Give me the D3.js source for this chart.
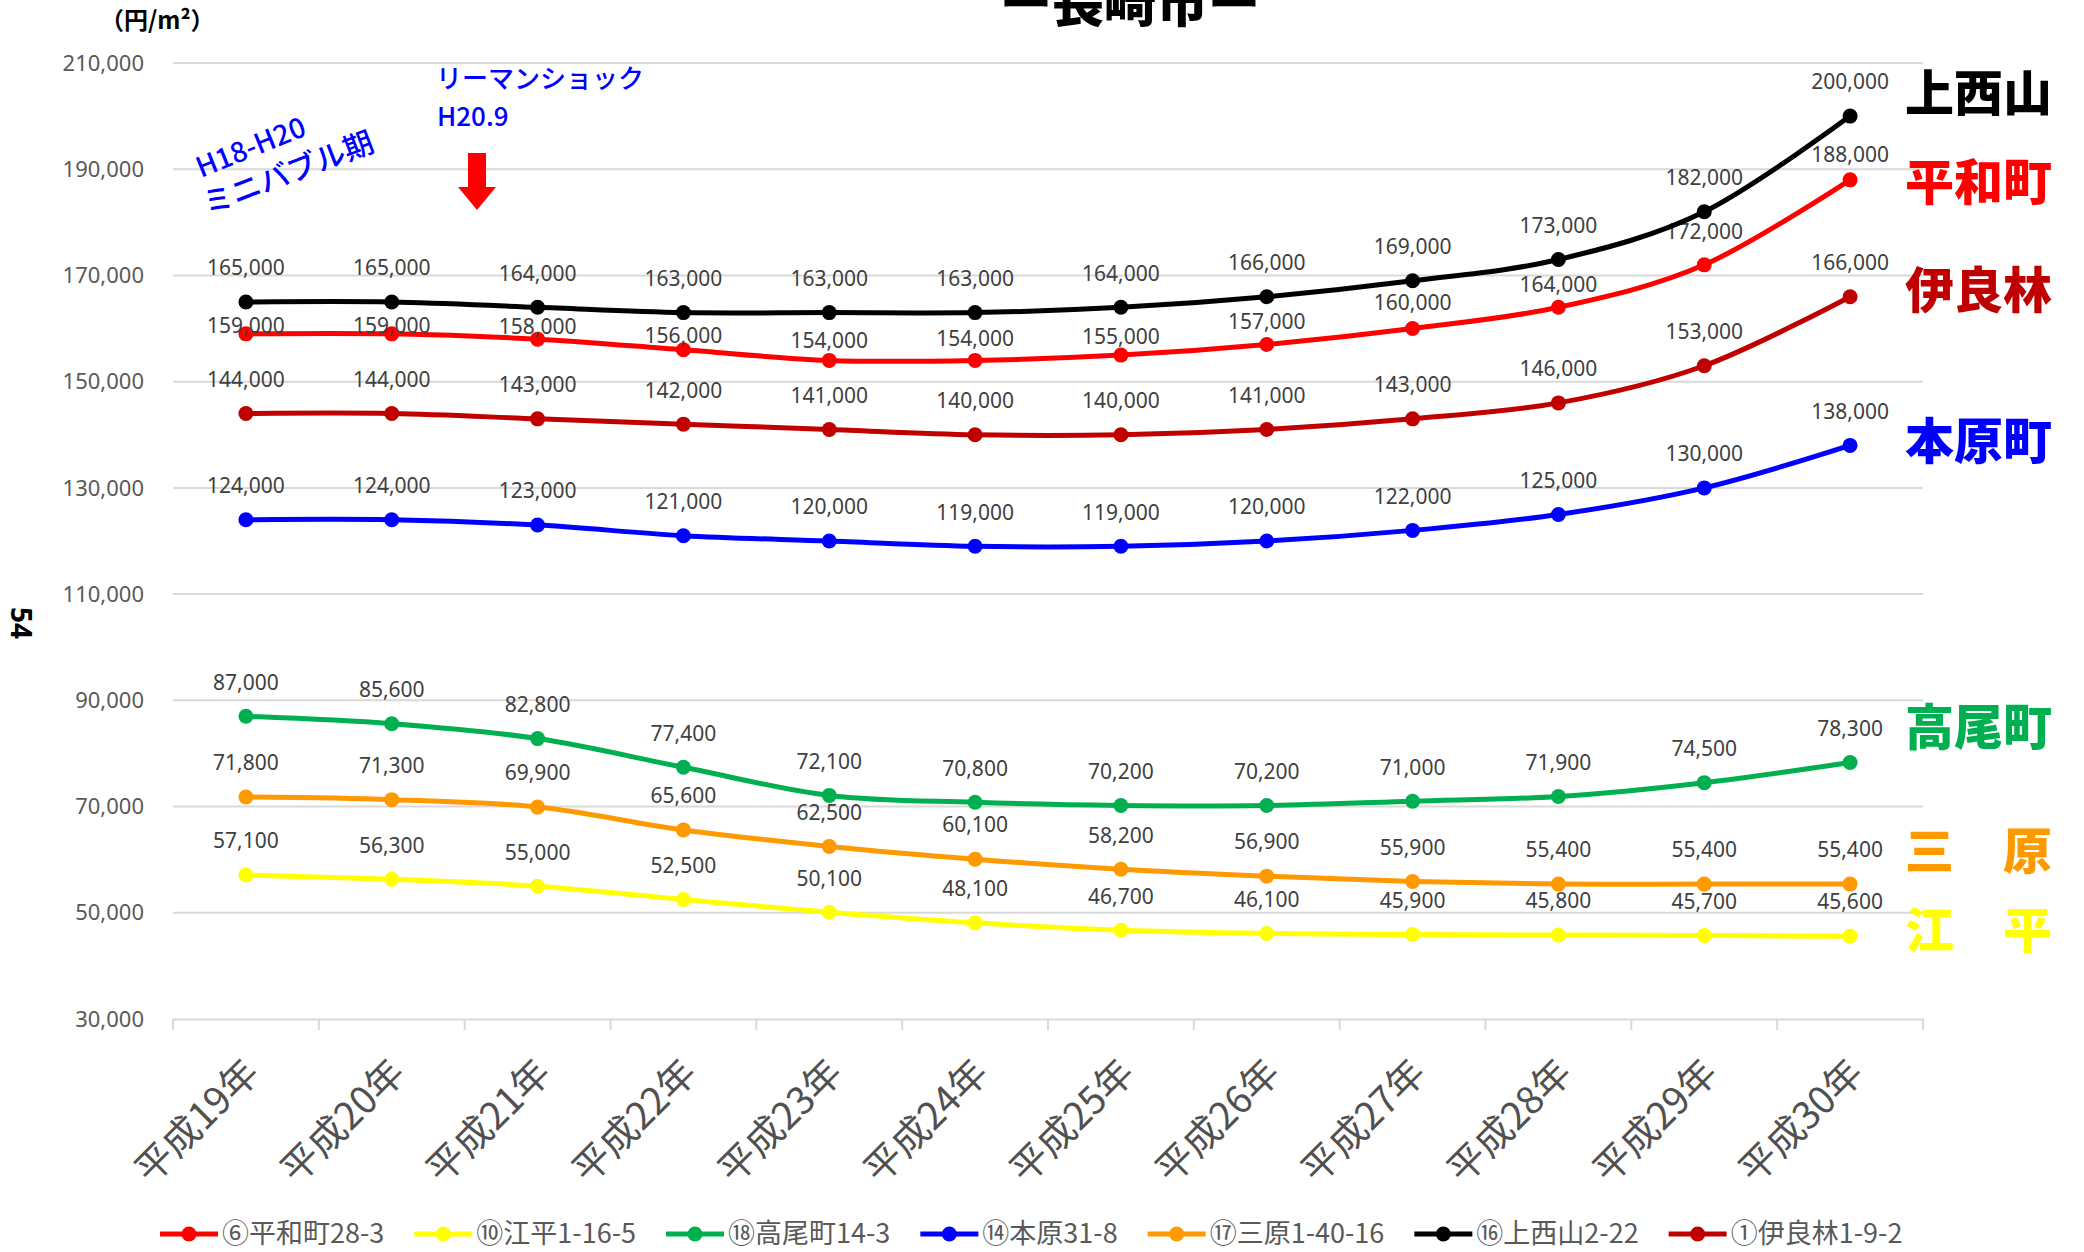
<!DOCTYPE html>
<html>
<head>
<meta charset="utf-8">
<title>長崎市 地価推移</title>
<style>
  body { margin: 0; background: #fff; }
  svg { display: block; }
  .grid line { stroke: #d9d9d9; stroke-width: 2px; }
  .lbl { font-family: "Noto Sans", "Noto Sans CJK JP", sans-serif; fill: #404040; }
  .jp { font-family: "Noto Sans CJK JP", sans-serif; }
</style>
</head>
<body>
<svg width="2084" height="1252"></svg>
<script src="https://d3js.org/d3.v7.min.js"></script>
<script>

// years (x categories)
var years = ["平成19年","平成20年","平成21年","平成22年","平成23年","平成24年",
             "平成25年","平成26年","平成27年","平成28年","平成29年","平成30年"];

var yTicks = [30000, 50000, 70000, 90000, 110000, 130000, 150000, 170000, 190000, 210000];

// series values (円/m²)
var heiwamachi = [159000,159000,158000,156000,154000,154000,155000,157000,160000,164000,172000,188000];
var ebira      = [57100,56300,55000,52500,50100,48100,46700,46100,45900,45800,45700,45600];
var takaomachi = [87000,85600,82800,77400,72100,70800,70200,70200,71000,71900,74500,78300];
var motoharamachi = [124000,124000,123000,121000,120000,119000,119000,120000,122000,125000,130000,138000];
var mihara     = [71800,71300,69900,65600,62500,60100,58200,56900,55900,55400,55400,55400];
var kaminishiyama = [165000,165000,164000,163000,163000,163000,164000,166000,169000,173000,182000,200000];
var iorin      = [144000,144000,143000,142000,141000,140000,140000,141000,143000,146000,153000,166000];

var legendNames = ["⑥平和町28-3","⑩江平1-16-5","⑱高尾町14-3","⑭本原31-8","⑰三原1-40-16","⑯上西山2-22","①伊良林1-9-2"];
var shortNames  = ["平和町","江　平","高尾町","本原町","三　原","上西山","伊良林"];
var colors      = ["#ff0000","#ffff00","#00b050","#0000ff","#ff9900","#000000","#c00000"];
var seriesValues = [heiwamachi, ebira, takaomachi, motoharamachi, mihara, kaminishiyama, iorin];

var series = legendNames.map(function(n, i) {
  return {name: n, short: shortNames[i], color: colors[i], values: seriesValues[i]};
});

var svg = d3.select("svg");
var plotLeft = 173, plotRight = 1923, plotTop = 63, plotBottom = 1019;

var x = d3.scaleBand().domain(years).range([plotLeft, plotRight]);
var y = d3.scaleLinear().domain([30000, 210000]).range([plotBottom, plotTop]);
var cx = function(i) { return x(years[i]) + x.bandwidth() / 2; };

// the 平和町 labels were nudged down by hand in the original so they clear the black line
var redLift = [8, 8, 13, 14, 20, 22, 18, 23, 26, 23, 33, 25];
var labelLift = function(s, i) { return s.short === "平和町" ? redLift[i] : 34; };

// title and unit
svg.append("text").attr("class", "jp")
    .attr("x", 1130).attr("y", 22)
    .attr("text-anchor", "middle")
    .style("font-size", "52px").style("font-weight", "900")
    .text("ー長崎市ー");

svg.append("text").attr("class", "jp")
    .attr("x", 100).attr("y", 29)
    .style("font-size", "24px").style("font-weight", "700")
    .text("（円/m²）");

svg.append("text").attr("class", "lbl")
    .attr("transform", "translate(11,623) rotate(90)")
    .attr("text-anchor", "middle")
    .style("font-size", "28px").style("font-weight", "700").style("fill", "#000")
    .text("54");

// gridlines
svg.append("g").attr("class", "grid")
  .selectAll("line").data(yTicks.slice(1)).enter().append("line")
    .attr("x1", plotLeft).attr("x2", plotRight)
    .attr("y1", function(d) { return y(d); }).attr("y2", function(d) { return y(d); });

// y axis labels
svg.append("g")
  .selectAll("text").data(yTicks).enter().append("text")
    .attr("class", "lbl")
    .attr("x", 144).attr("y", function(d) { return y(d); })
    .attr("dy", "0.35em").attr("text-anchor", "end")
    .style("font-size", "22px").style("fill", "#595959")
    .text(d3.format(","));

// x axis
var xAxis = svg.append("g")
    .attr("transform", "translate(0," + plotBottom + ")")
    .call(d3.axisBottom(x).tickSize(0).tickFormat(""));
xAxis.select(".domain").attr("stroke", "#d9d9d9").attr("stroke-width", 2);
xAxis.append("g").selectAll("line")
    .data(d3.range(years.length + 1)).enter().append("line")
    .attr("x1", function(i) { return plotLeft + i * x.bandwidth(); })
    .attr("x2", function(i) { return plotLeft + i * x.bandwidth(); })
    .attr("y1", 0).attr("y2", 11)
    .attr("stroke", "#d9d9d9").attr("stroke-width", 2);

svg.append("g")
  .selectAll("text").data(years).enter().append("text")
    .attr("class", "jp")
    .attr("transform", function(d, i) { return "translate(" + (cx(i) + 6) + ",1066) rotate(-45)"; })
    .attr("text-anchor", "end").attr("dy", "0.35em")
    .style("font-size", "38px").style("fill", "#505050")
    .text(function(d) { return d; });

// lines
var line = d3.line()
    .curve(d3.curveCatmullRom.alpha(0))
    .x(function(d, i) { return cx(i); })
    .y(function(d) { return y(d); });

var s = svg.selectAll(".series").data(series).enter().append("g").attr("class", "series");

s.append("path")
    .attr("d", function(d) { return line(d.values); })
    .attr("fill", "none")
    .attr("stroke", function(d) { return d.color; })
    .attr("stroke-width", 5);

s.selectAll("circle").data(function(d) { return d.values.map(function(v) { return {v: v, c: d.color}; }); })
  .enter().append("circle")
    .attr("cx", function(d, i) { return cx(i); })
    .attr("cy", function(d) { return y(d.v); })
    .attr("r", 7.5)
    .attr("fill", function(d) { return d.c; });

s.each(function(ser) {
  d3.select(this).selectAll(".val").data(ser.values)
    .enter().append("text")
      .attr("class", "lbl val")
      .attr("x", function(d, i) { return cx(i); })
      .attr("y", function(d, i) { return y(d) - labelLift(ser, i); })
      .attr("dy", "0.35em")
      .attr("text-anchor", "middle")
      .style("font-size", "21px")
      .text(d3.format(","));
});

// names at right
var nameY = {"上西山": 93, "平和町": 182, "伊良林": 290, "本原町": 441, "高尾町": 727, "三　原": 851, "江　平": 930};
svg.append("g").selectAll("text").data(series).enter().append("text")
    .attr("class", "jp")
    .attr("x", 1905)
    .attr("y", function(d) { return nameY[d.short]; })
    .attr("dy", "0.36em")
    .style("font-size", "49px").style("font-weight", "900")
    .style("fill", function(d) { return d.color; })
    .text(function(d) { return d.short; });

// annotations
var ann = svg.append("g").attr("class", "jp").style("fill", "#0000ff").style("font-weight", "500");
ann.append("text").attr("x", 436).attr("y", 88).style("font-size", "26px").text("リーマンショック");
ann.append("text").attr("x", 437).attr("y", 126).style("font-size", "26px").text("H20.9");
ann.append("text").attr("transform", "translate(201,178) rotate(-22)").style("font-size", "28px").text("H18-H20");
ann.append("text").attr("transform", "translate(208,215) rotate(-21)").style("font-size", "30px").text("ミニバブル期");

svg.append("path")
    .attr("d", d3.line()([[468,153],[486,153],[486,187],[496,187],[477,210],[458,187],[468,187]]) + "Z")
    .attr("fill", "#ff0000");

// legend
var lg = svg.append("g").attr("transform", "translate(0,1234)");
var lx = 160;
series.forEach(function(d) {
  var g = lg.append("g").attr("transform", "translate(" + lx + ",0)");
  g.append("line").attr("x1", 0).attr("x2", 58).attr("stroke", d.color).attr("stroke-width", 5);
  g.append("circle").attr("cx", 29).attr("r", 7.5).attr("fill", d.color);
  var t = g.append("text").attr("class", "jp").attr("x", 62).attr("dy", "0.34em")
      .style("font-size", "27px").style("fill", "#595959").text(d.name);
  lx += 62 + t.node().getComputedTextLength() + 30;
});

</script>
</body>
</html>
